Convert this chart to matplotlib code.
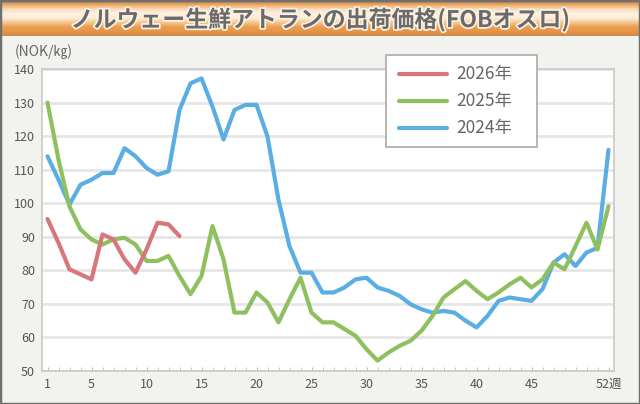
import numpy as np
import matplotlib
matplotlib.use("Agg")
import matplotlib.pyplot as plt
import matplotlib.patheffects as pe
from matplotlib.patches import Rectangle
from matplotlib.lines import Line2D

plt.rcParams['font.family'] = ['Noto Sans CJK JP', 'DejaVu Sans']

title = "ノルウェー生鮮アトランの出荷価格(FOBオスロ)"
unit_label = "(NOK/㎏)"
series_names = ["2026年", "2025年", "2024年"]
series_colors = ['#d8777b', '#8fc060', '#5aaee3']

weeks_2026 = list(range(1, 14))
price_2026 = [95.3, 88.2, 80.3, 78.8, 77.3, 90.7, 89.2, 83.3, 79.3, 86.2, 94.2, 93.7, 90.2]

weeks_all = list(range(1, 53))
price_2025 = [130, 113, 99, 92.2, 89.2, 87.7, 89.2, 89.7, 87.7, 82.8,
              82.8, 84.3, 78.3, 72.9, 78.3, 93.2, 83.3, 67.4, 67.4, 73.4,
              70.4, 64.5, 71.4, 77.8, 67.4, 64.5, 64.5, 62.5, 60.5, 56.5,
              53.1, 55.5, 57.5, 59.0, 62.0, 66.4, 71.9, 74.4, 76.8, 73.9,
              71.4, 73.4, 75.8, 77.8, 74.9, 77.3, 82.3, 80.3, 87.2, 94.2,
              86.2, 99.1]
price_2024 = [114, 107, 99.6, 105.5, 107, 109, 109, 116.4, 114, 110.5,
              108.5, 109.5, 127.8, 135.7, 137.2, 128.8, 119, 127.8, 129.3, 129.3,
              119.9, 101, 87.2, 79.3, 79.3, 73.4, 73.4, 74.9, 77.3, 77.8,
              74.9, 73.9, 72.4, 69.9, 68.4, 67.4, 67.9, 67.4, 65.0, 63.0,
              66.4, 70.9, 71.9, 71.4, 70.9, 74.4, 82.3, 84.8, 81.3, 85.3,
              86.7, 115.9]

xtick_pos = [1, 5, 10, 15, 20, 25, 30, 35, 40, 45, 52]
xtick_labels = ["1", "5", "10", "15", "20", "25", "30", "35", "40", "45", "52週"]
ytick_vals = list(range(50, 141, 10))

W, H = 640, 404
fig = plt.figure(figsize=(W / 100, H / 100), dpi=100)
fig.patch.set_facecolor('#f2f2ee')


def fx(px):
    return px / W


def fy(py):
    return 1 - py / H


# title banner
banner_h = 36
bax = fig.add_axes([0, fy(banner_h), 1, banner_h / H])
cols = np.array([
    [0.70, 0.44, 0.20],
    [0.92, 0.66, 0.40],
    [0.98, 0.86, 0.72],
    [0.99, 0.95, 0.89],
    [0.99, 0.93, 0.85],
    [0.96, 0.78, 0.56],
    [0.92, 0.62, 0.32],
    [0.90, 0.58, 0.28],
    [0.82, 0.54, 0.30],
])
t = np.linspace(0, 1, len(cols))
tt = np.linspace(0, 1, 100)
grad = np.stack([np.interp(tt, t, cols[:, i]) for i in range(3)], axis=1)
bax.imshow(grad[:, None, :], aspect='auto', extent=[0, 1, 0, 1], origin='upper')
bax.set_xlim(0, 1)
bax.set_ylim(0, 1)
bax.axis('off')
fig.text(fx(320), fy(20), title, ha='center', va='center', fontsize=16.5, fontweight='bold',
         color='#6a6a6a',
         path_effects=[pe.withStroke(linewidth=2.5, foreground='#fbf0e2')])

# main axes
left, right, top, bottom = 42, 614, 69, 371
ax = fig.add_axes([fx(left), fy(bottom), (right - left) / W, (bottom - top) / H])
ax.set_facecolor('white')

ax.plot(weeks_all, price_2024, color=series_colors[2], lw=3, zorder=3,
        solid_joinstyle='round', solid_capstyle='round')
ax.plot(weeks_all, price_2025, color=series_colors[1], lw=3, zorder=3,
        solid_joinstyle='round', solid_capstyle='round')
ax.plot(weeks_2026, price_2026, color=series_colors[0], lw=3, zorder=4,
        solid_joinstyle='round', solid_capstyle='round')

ax.set_xlim(0.5, 52.5)
ax.set_ylim(50, 140)
ax.set_yticks(ytick_vals)
ax.set_yticklabels([str(v) for v in ytick_vals], fontsize=9, color='#555555')
ax.set_xticks(xtick_pos)
ax.set_xticklabels(xtick_labels, fontsize=9, color='#555555')
ax.set_xticks(weeks_all, minor=True)
ax.tick_params(axis='x', which='both', direction='in', length=3, color='#bbbbbb', pad=5)
ax.tick_params(axis='y', length=0, pad=5)
ax.grid(axis='y', color='#e6e6e6', lw=2, zorder=0)
ax.set_axisbelow(True)
for s in ax.spines.values():
    s.set_color('#c8c8c8')
    s.set_linewidth(1.2)

# legend (drawn in figure pixels)
lx0, lx1, ly0, ly1 = 386, 537, 55, 147
fig.patches.append(Rectangle((fx(lx0), fy(ly1)), fx(lx1) - fx(lx0), fy(ly0) - fy(ly1),
                             transform=fig.transFigure, facecolor='white',
                             edgecolor='#b0b0b0', lw=1.3, zorder=5))
for i, (name, c) in enumerate(zip(series_names, series_colors)):
    yy = 74 + i * 27
    fig.lines.append(Line2D([fx(399), fx(447)], [fy(yy), fy(yy)], transform=fig.transFigure,
                            color=c, lw=3, solid_capstyle='round', zorder=6))
    fig.text(fx(456), fy(yy), name, fontsize=12.5, color='#666666', ha='left',
             va='center', zorder=6)

fig.text(fx(15), fy(52), unit_label, fontsize=10, color='#666666', ha='left', va='center')

# outer border
fig.patches.append(Rectangle((0, 0), 1, 1, transform=fig.transFigure, fill=False,
                             edgecolor='#707070', lw=2.5, zorder=10))

fig.savefig('out.png', dpi=100, facecolor=fig.get_facecolor())
